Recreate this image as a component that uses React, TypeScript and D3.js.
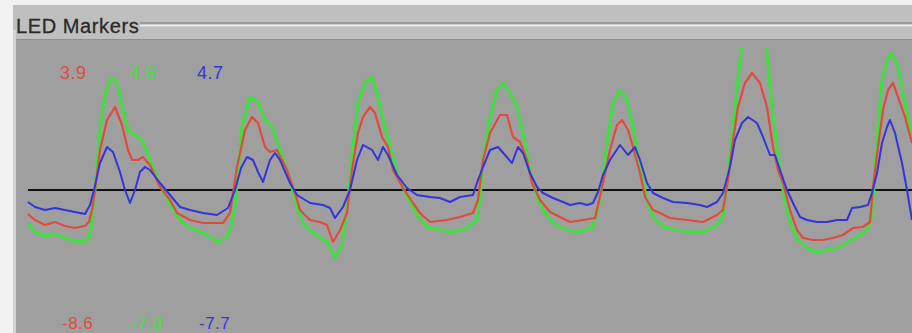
import React from "react";
import * as d3 from "d3";

// sample index (t) and signal value (v)
const bluePts: [number, number][] = [
  [0, -1.2], [7, -1.7], [17, -2.0], [27, -1.8], [37, -2.0], [47, -2.2], [57, -2.4], [62, -1.5], [66, 0], [72, 2.7],
  [79, 4.3], [85, 3.8], [92, 1.8], [97, 0], [102, -1.3], [107, 0], [112, 1.8], [117, 2.3], [122, 2.0], [132, 0.7],
  [142, -0.5], [152, -1.7], [162, -2.0], [175, -2.3], [189, -2.5], [200, -1.8], [207, 0], [213, 2.2], [219, 3.3], [225, 3.0],
  [230, 1.8], [235, 0.8], [242, 3.0], [247, 3.7], [252, 3.0], [262, 0.7], [269, -0.5], [282, -1.3], [295, -1.5], [302, -1.8],
  [307, -2.8], [315, -1.7], [322, 0], [329, 3.0], [335, 4.5], [344, 4.0], [350, 3.0], [355, 4.3], [360, 3.5], [369, 1.5],
  [379, 0.2], [389, -0.5], [402, -0.7], [412, -0.8], [422, -1.2], [432, -0.7], [445, -0.5], [450, 1.0], [455, 2.3], [462, 4.0],
  [470, 4.3], [477, 3.5], [484, 2.7], [490, 4.3], [495, 3.7], [502, 1.7], [509, 0.3], [515, -0.3], [525, -0.8], [535, -1.2],
  [542, -1.5], [552, -1.3], [559, -1.5], [565, -1.3], [570, -0.2], [575, 1.5], [582, 3.0], [592, 4.5], [600, 3.5], [607, 4.3],
  [612, 3.0], [619, 0.7], [625, -0.3], [635, -0.8], [645, -1.2], [659, -1.3], [672, -1.5], [679, -1.7], [689, -1.2], [695, -0.3],
  [702, 2.3], [707, 5.0], [714, 6.7], [720, 7.3], [729, 6.7], [735, 5.3], [742, 3.5], [747, 3.5], [752, 2.0], [759, 0],
  [765, -1.3], [772, -2.7], [779, -3.0], [789, -3.2], [799, -3.2], [809, -3.0], [819, -3.0], [824, -1.8], [832, -1.7], [840, -1.5],
  [844, -0.3], [849, 1.7], [854, 4.7], [859, 6.3], [862, 7.0], [867, 5.7], [874, 2.7], [879, 0], [884, -3.0],
];

const redPts: [number, number][] = [
  [0, -2.4], [7, -3.0], [17, -3.5], [27, -3.2], [37, -3.6], [47, -3.8], [57, -3.6], [61, -3.2], [64, -2.0], [67, 0],
  [72, 4.0], [79, 7.0], [87, 8.3], [94, 6.5], [100, 4.0], [104, 3.0], [110, 3.0], [115, 3.3], [122, 2.5], [132, 0.3],
  [142, -1.0], [149, -2.3], [162, -3.0], [175, -3.3], [195, -3.3], [202, -2.3], [209, 2.3], [217, 6.0], [224, 7.3], [230, 6.7],
  [237, 4.3], [242, 3.8], [249, 4.0], [259, 2.0], [267, -0.3], [272, -2.0], [282, -3.0], [292, -3.2], [299, -3.5], [305, -5.2],
  [312, -4.0], [319, -2.3], [324, 2.0], [330, 5.7], [335, 7.3], [342, 8.3], [347, 7.7], [354, 5.3], [360, 4.3], [365, 2.0],
  [375, 0.2], [385, -1.3], [392, -2.3], [402, -3.2], [419, -3.0], [432, -2.7], [445, -2.3], [450, -1.0], [455, 3.0], [462, 5.7],
  [472, 7.5], [479, 7.5], [485, 5.3], [492, 4.8], [499, 3.0], [504, 0.7], [512, -1.0], [522, -2.2], [532, -2.7], [542, -3.2],
  [555, -3.0], [567, -2.8], [570, -1.5], [575, 0.7], [582, 4.0], [589, 6.5], [594, 7.0], [600, 6.0], [605, 4.3], [612, 1.7],
  [617, -0.7], [625, -2.0], [632, -2.3], [642, -2.8], [659, -3.0], [675, -3.2], [689, -2.5], [695, -2.0], [700, 1.0], [705, 5.0],
  [710, 8.3], [717, 10.7], [724, 11.7], [732, 10.7], [739, 8.3], [745, 4.3], [750, 2.0], [755, 0.7], [762, -2.0], [769, -4.0],
  [775, -4.8], [785, -5.0], [795, -5.0], [805, -4.8], [815, -4.5], [825, -3.8], [835, -3.7], [842, -3.2], [845, 0.3], [850, 4.3],
  [855, 8.0], [860, 10.0], [865, 10.7], [870, 9.3], [877, 7.3], [884, 4.7],
];

const greenPts: [number, number][] = [
  [0, -3.3], [7, -4.2], [17, -4.6], [27, -4.4], [37, -4.8], [47, -5.1], [57, -5.2], [61, -4.8], [64, -3.0], [67, 0],
  [72, 6.0], [77, 9.5], [82, 11.0], [85, 11.2], [90, 10.5], [96, 7.5], [100, 6.0], [107, 5.5], [114, 5.0], [122, 3.0],
  [130, 1.0], [137, -0.5], [144, -1.8], [152, -3.0], [162, -3.8], [175, -4.3], [190, -5.2], [198, -4.8], [202, -4.0], [207, -1.5],
  [214, 6.3], [222, 9.3], [230, 8.8], [237, 7.0], [244, 6.3], [252, 4.0], [260, 1.7], [269, -1.7], [275, -3.3], [285, -4.3],
  [299, -5.2], [307, -6.8], [314, -5.5], [320, -1.0], [325, 4.3], [330, 8.7], [337, 10.7], [344, 11.3], [350, 9.3], [355, 7.0],
  [362, 4.3], [369, 1.7], [379, -0.7], [389, -2.5], [399, -3.7], [412, -4.0], [425, -4.2], [439, -3.8], [449, -3.0], [452, -1.0],
  [455, 3.0], [462, 7.3], [469, 10.0], [475, 10.7], [482, 9.7], [489, 8.3], [495, 5.7], [502, 2.0], [509, -0.7], [515, -2.0],
  [525, -3.3], [539, -4.0], [552, -4.2], [565, -3.7], [572, -1.0], [579, 4.7], [585, 8.7], [592, 10.0], [599, 9.0], [605, 6.3],
  [612, 2.3], [619, -1.0], [625, -2.7], [635, -3.7], [649, -4.0], [662, -4.2], [675, -4.2], [689, -3.5], [695, -2.7], [700, 1.7],
  [707, 8.3], [712, 13.0], [717, 16.0], [737, 16.0], [742, 10.3], [744, 8.3], [749, 4.3], [755, 0], [762, -3.3], [770, -5.0],
  [779, -5.8], [789, -6.2], [799, -6.0], [809, -5.8], [819, -5.3], [829, -4.7], [839, -4.0], [844, -2.7], [849, 5.0], [854, 11.0],
  [859, 13.0], [864, 13.7], [870, 12.3], [875, 9.7], [884, 5.0],
];

const topLabels = ["3.9", "4.6", "4.7"];
const bottomLabels = ["-8.6", "-7.9", "-7.7"];
const seriesColors = ["#e24b3b", "#3ee03e", "#3434dc"];
const title = "LED Markers";

const W = 912;
const H = 333;

export default function App() {
  const x = d3.scaleLinear().domain([0, 884]).range([28, 912]);
  const y = d3.scaleLinear().domain([-15, 15]).range([340, 40]);
  const line = d3
    .line<[number, number]>()
    .x((d) => x(d[0]))
    .y((d) => y(d[1]));

  const labelX = [60, 130, 197];

  return (
    <>
      <style>{`body{margin:0}`}</style>
      <svg width={W} height={H} style={{ display: "block" }}>
        <defs>
          <clipPath id="plotClip">
            <rect x={16} y={48} width={W - 16} height={H - 48} />
          </clipPath>
        </defs>
        <rect x={0} y={0} width={W} height={H} fill="#f2f2f2" />
        <rect x={13} y={5} width={W - 13} height={H - 5} fill="#bfbfbf" />
        <line x1={14.5} x2={14.5} y1={30} y2={H} stroke="#dcdcdc" strokeWidth={2} />
        <line x1={140} x2={W} y1={23} y2={23} stroke="#8c8c8c" strokeWidth={1.5} />
        <line x1={140} x2={W} y1={25.5} y2={25.5} stroke="#f4f4f4" strokeWidth={1.5} />
        <text
          x={16}
          y={33}
          fontFamily="Liberation Sans, Arial, sans-serif"
          fontSize={20}
          letterSpacing={0.6}
          fill="#2a2a2a"
          stroke="#2a2a2a"
          strokeWidth={0.3}
        >
          {title}
        </text>
        <rect x={16} y={39} width={W - 16} height={H - 39} fill="#9f9f9f" />
        <line x1={16} x2={W} y1={39.5} y2={39.5} stroke="#8e8e8e" strokeWidth={1} />

        <line
          x1={x(0)}
          x2={x(884)}
          y1={y(0)}
          y2={y(0)}
          stroke="#111"
          strokeWidth={2}
        />

        <g clipPath="url(#plotClip)" fill="none" strokeLinejoin="round">
          <path d={line(greenPts) || ""} stroke={seriesColors[1]} strokeWidth={3} />
          <path d={line(redPts) || ""} stroke={seriesColors[0]} strokeWidth={2.2} />
          <path d={line(bluePts) || ""} stroke={seriesColors[2]} strokeWidth={2} />
        </g>

        {topLabels.map((t, i) => (
          <text
            key={"t" + i}
            x={labelX[i]}
            y={79}
            fontFamily="Liberation Sans, Arial, sans-serif"
            fontSize={18}
            letterSpacing={0.5}
            fill={seriesColors[i]}
          >
            {t}
          </text>
        ))}
        {bottomLabels.map((t, i) => (
          <text
            key={"b" + i}
            x={labelX[i] + 2}
            y={329}
            fontFamily="Liberation Sans, Arial, sans-serif"
            fontSize={17}
            letterSpacing={0.5}
            fill={seriesColors[i]}
          >
            {t}
          </text>
        ))}
      </svg>
    </>
  );
}
